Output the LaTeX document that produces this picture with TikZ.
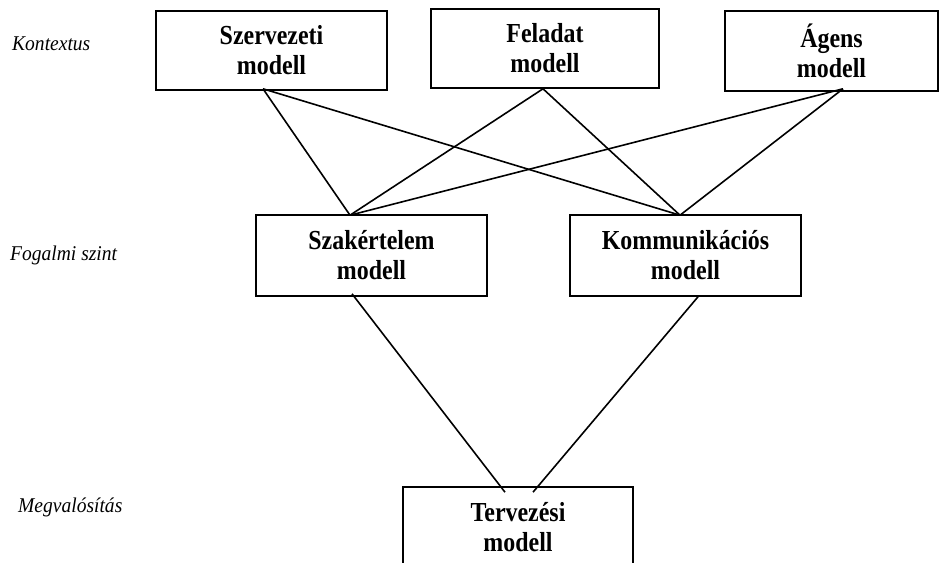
\documentclass[tikz,border=0pt]{standalone}
\usepackage{fontspec}
\setmainfont{Liberation Serif}
\newfontfamily\boxfont[FakeStretch=0.87]{Liberation Serif}
\newfontfamily\labelfont[FakeStretch=0.93]{Liberation Serif}
\begin{document}
\begin{tikzpicture}[x=1pt,y=-1pt,
  modelbox/.style={draw,line width=1.6pt,align=center,inner sep=0pt,
    font=\boxfont\fontsize{27.5}{30}\selectfont\bfseries},
  levellabel/.style={anchor=west,inner sep=0pt,
    font=\labelfont\fontsize{21}{23}\selectfont\itshape},
  link/.style={line width=1.6pt}]
\useasboundingbox (0,0) rectangle (947,562);

% level labels
\node[levellabel] (lctx) at (12,44) {Kontextus};
\node[levellabel] (lcon) at (10,255) {Fogalmi szint};
\node[levellabel] (limp) at (18,507) {Megvalósítás};

% context level
\node[modelbox,minimum width=231pt,minimum height=79pt] (szerv) at (271.5,50.5) {Szervezeti\\modell};
\node[modelbox,minimum width=228pt,minimum height=79pt] (felad) at (545,48.5) {Feladat\\modell};
\node[modelbox,minimum width=213pt,minimum height=80pt] (agens) at (831.5,51) {Ágens\\modell};

% conceptual level
\node[modelbox,minimum width=231pt,minimum height=81pt] (szak) at (371.5,255.5) {Szakértelem\\modell};
\node[modelbox,minimum width=231pt,minimum height=81pt] (komm) at (685.5,255.5) {Kommunikációs\\modell};

% implementation level
\node[modelbox,minimum width=230pt,minimum height=80pt] (terv) at (518,527) {Tervezési\\modell};

% connector end points
\coordinate (szervB) at ([xshift=-8.5pt,yshift=2pt]szerv.south);
\coordinate (feladB) at ([xshift=-2pt]felad.south);
\coordinate (agensB) at ([xshift=11.5pt,yshift=3pt]agens.south);
\coordinate (szakT) at ([xshift=-21.5pt,yshift=-1pt]szak.north);
\coordinate (kommT) at ([xshift=-5.5pt,yshift=-1pt]komm.north);
\coordinate (szakB) at ([xshift=-19.5pt,yshift=3pt]szak.south);
\coordinate (kommB) at ([xshift=12.5pt]komm.south);
\coordinate (tervL) at ([xshift=-13pt,yshift=-6pt]terv.north);
\coordinate (tervR) at ([xshift=15pt,yshift=-6pt]terv.north);

\draw[link] (szervB) -- (szakT);
\draw[link] (szervB) -- (kommT);
\draw[link] (feladB) -- (szakT);
\draw[link] (feladB) -- (kommT);
\draw[link] (agensB) -- (szakT);
\draw[link] (agensB) -- (kommT);
\draw[link] (szakB) -- (tervL);
\draw[link] (kommB) -- (tervR);
\end{tikzpicture}
\end{document}
